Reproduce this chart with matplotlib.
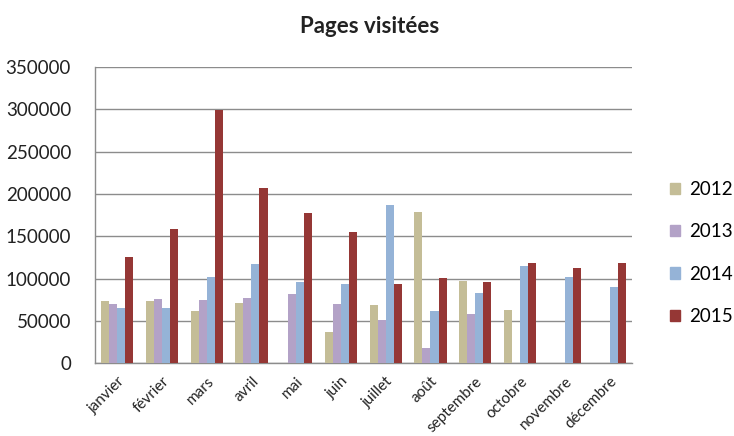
import numpy as np
import matplotlib.pyplot as plt
from matplotlib.patches import Patch

plt.rcParams['font.family'] = ['Lato', 'DejaVu Sans']

mois = ['janvier', 'février', 'mars', 'avril', 'mai', 'juin', 'juillet',
        'août', 'septembre', 'octobre', 'novembre', 'décembre']
annees = ['2012', '2013', '2014', '2015']

# nan = pas de valeur pour ce mois
v2012 = [73000, 73000, 62000, 71000, np.nan, 37000, 69000, 178500, 97500, 63000, np.nan, np.nan]
v2013 = [70000, 75500, 75000, 77000, 81500, 70500, 51000, 17500, 58000, np.nan, np.nan, np.nan]
v2014 = [65000, 65000, 101500, 117500, 96000, 94000, 186500, 62000, 83000, 115000, 101500, 90500]
v2015 = [126000, 158500, 299500, 207000, 178000, 155000, 94000, 100500, 96000, 119000, 112500, 118000]

couleurs = ['#C4BD97', '#B3A2C7', '#95B3D7', '#953735']

fig = plt.figure(figsize=(7.34, 4.36), dpi=100)
ax = fig.add_axes([0.129, 0.167, 0.732, 0.679])

x = np.arange(len(mois))
larg = 0.18
for i, (serie, c) in enumerate(zip([v2012, v2013, v2014, v2015], couleurs)):
    ax.bar(x + (i - 1.5) * larg, serie, width=larg, color=c, zorder=3)

ax.set_xlim(-0.5, len(mois) - 0.5)
ax.set_ylim(0, 350000)
ax.set_yticks(range(0, 350001, 50000))
ax.tick_params(axis='y', labelsize=13.5, length=0, pad=17, colors='#222222')
ax.set_xticks(x)
ax.set_xticklabels(mois, rotation=45, ha='right', rotation_mode='anchor', fontsize=11)
ax.tick_params(axis='x', length=0, pad=8, colors='#222222')

ax.grid(axis='y', color='#8c8c8c', linewidth=1, zorder=0)
for s in ['top', 'right']:
    ax.spines[s].set_visible(False)
for s in ['left', 'bottom']:
    ax.spines[s].set_color('#8c8c8c')
    ax.spines[s].set_linewidth(1)

fig.text(0.504, 0.94, 'Pages visitées', ha='center', va='center',
         fontsize=16, fontweight='bold', color='#222222')

poignees = [Patch(color=c, label=a) for c, a in zip(couleurs, annees)]
fig.legend(handles=poignees, loc='center left', bbox_to_anchor=(0.89, 0.42),
           frameon=False, fontsize=13.5, handlelength=0.55, handleheight=0.55,
           handletextpad=0.45, labelspacing=1.35)

fig.savefig('out.png', dpi=100)
